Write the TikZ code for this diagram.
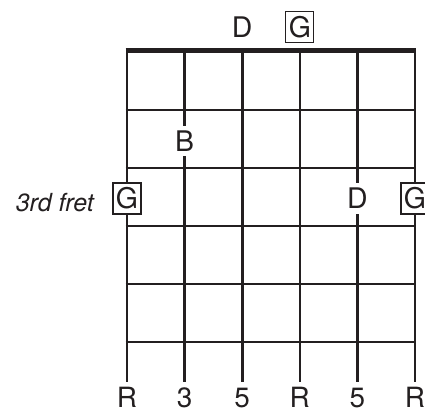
\documentclass[tikz,border=0pt]{standalone}
\usepackage{fontspec}
\setmainfont{TeX Gyre Heros}
\definecolor{ink}{HTML}{231F20}
\begin{document}
\begin{tikzpicture}[x=1bp,y=-1bp,
  stringline/.style={line width=2.6bp, draw=ink},
  fretline/.style={line width=2.6bp, draw=ink},
  nutline/.style={line width=5bp, draw=ink},
  note/.style={fill=white, inner xsep=2bp, inner ysep=5bp, text=ink, font=\fontsize{28.5}{28.5}\selectfont},
  root/.style={note, draw=ink, line width=1.3bp, inner sep=1bp, minimum width=28bp, minimum height=31bp},
  bottomlabel/.style={anchor=base, inner sep=0pt, text=ink, text depth=0pt, font=\fontsize{28}{28}\selectfont},
]
\useasboundingbox (0,0) rectangle (425,413);
% strings
\foreach \i/\x in {1/127,2/184.6,3/242.2,4/299.8,5/357.4,6/415} {
  \coordinate (t\i) at (\x,50);
  \coordinate (b\i) at (\x,382);
  \draw[stringline] (t\i) -- (b\i);
}
% frets
\foreach \j/\y in {1/110,2/168,3/226,4/284,5/342} {
  \coordinate (fl\j) at (125.7,\y);
  \coordinate (fr\j) at (416.3,\y);
  \draw[fretline] (fl\j) -- (fr\j);
}
% nut
\coordinate (nl) at (125.7,50);
\coordinate (nr) at (416.3,50);
\draw[nutline] (nl) -- (nr);
% notes
\node[note] (topD) at (242.2,27) {D};
\node[root] (topG) at (299.8,27) {G};
\node[note] (noteB) at (184.6,141) {B};
\node[root] (leftG) at (127,198.5) {G};
\node[note] (noteD) at (357.4,198.5) {D};
\node[root] (rightG) at (415,198.5) {G};
\node[anchor=base east, inner sep=0pt, text=ink, font=\itshape\fontsize{25}{25}\selectfont] (fretlabel) at (94,211.5) {3rd fret};
% bottom labels
\node[bottomlabel] (l1) at (127,407) {R};
\node[bottomlabel] (l2) at (184.6,407) {3};
\node[bottomlabel] (l3) at (242.2,407) {5};
\node[bottomlabel] (l4) at (299.8,407) {R};
\node[bottomlabel] (l5) at (357.4,407) {5};
\node[bottomlabel] (l6) at (415,407) {R};
\end{tikzpicture}
\end{document}
